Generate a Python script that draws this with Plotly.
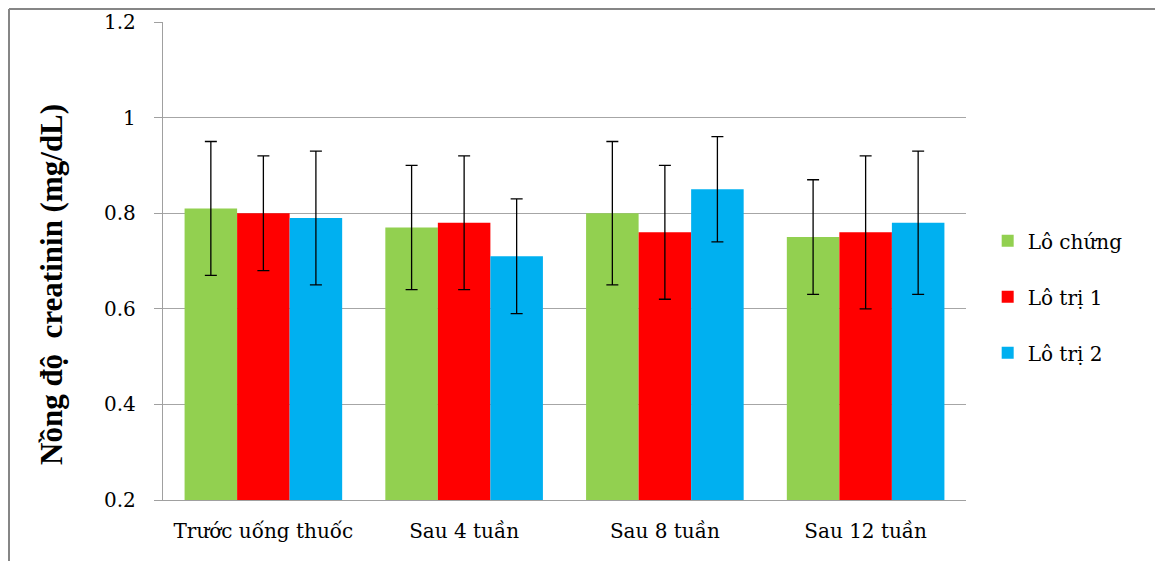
import plotly.graph_objects as go

categories = ["Trước uống thuốc", "Sau 4 tuần", "Sau 8 tuần", "Sau 12 tuần"]
series_names = ["Lô chứng", "Lô trị 1", "Lô trị 2"]
lo_chung = [0.81, 0.77, 0.80, 0.75]
lo_chung_err = [0.14, 0.13, 0.15, 0.12]
lo_tri1 = [0.80, 0.78, 0.76, 0.76]
lo_tri1_err = [0.12, 0.14, 0.14, 0.16]
lo_tri2 = [0.79, 0.71, 0.85, 0.78]
lo_tri2_err = [0.14, 0.12, 0.11, 0.15]
colors = ["#92D050", "#FF0000", "#00B0F0"]
y_ticks = [0.2, 0.4, 0.6, 0.8, 1.0, 1.2]
y_tick_text = ["0.2", "0.4", "0.6", "0.8", "1", "1.2"]
y_title = "Nồng độ  creatinin (mg/dL)"

# page body has an 8px margin, so the figure is offset by 8px
W, H = 1147, 553
L, R, T, B = 155, 189, 14, 61
pw = W - L - R
ph = H - T - B

TXT = "DejaVu Serif"
TITLE_FAM = "Liberation Serif"

fig = go.Figure()
for i, (name, vals, errs) in enumerate(zip(series_names, [lo_chung, lo_tri1, lo_tri2],
                                           [lo_chung_err, lo_tri1_err, lo_tri2_err])):
    fig.add_trace(go.Bar(
        x=categories, y=vals, name=name,
        marker=dict(color=colors[i], line=dict(width=0)),
        error_y=dict(type="data", array=errs, visible=True, color="#000000",
                     thickness=1.3, width=6),
        legendgroup=name,
    ))

fig.update_layout(
    template=None,
    width=W, height=H,
    margin=dict(l=L, r=R, t=T, b=B, autoexpand=False),
    paper_bgcolor="white", plot_bgcolor="white",
    barmode="group", bargap=0.215, bargroupgap=0,
    font=dict(family=TXT, color="#000000", size=21),
    showlegend=True,
    legend=dict(x=1.027, xanchor="left", y=0.425, yanchor="middle",
                font=dict(family=TXT, size=20, color="#000000"),
                traceorder="grouped", tracegroupgap=27,
                itemwidth=30, bgcolor="rgba(0,0,0,0)"),
    xaxis=dict(showgrid=False, showline=True, linecolor="#A0A0A0", linewidth=1.3,
               ticks="", tickfont=dict(family=TXT, size=20, color="#000000"),
               ticklabelstandoff=13),
    yaxis=dict(range=[0.2, 1.2], tickvals=y_ticks, ticktext=y_tick_text,
               showgrid=True, gridcolor="#A6A6A6", gridwidth=1.3,
               showline=True, linecolor="#A0A0A0", linewidth=1.3,
               ticks="outside", ticklen=8, tickcolor="#A0A0A0", tickwidth=1.3,
               tickfont=dict(family=TXT, size=20, color="#000000"),
               ticklabelstandoff=14, zeroline=False),
)

fig.add_annotation(text="<b>" + y_title + "</b>", xref="paper", yref="paper",
                   x=(51 - 163) / pw, y=(500 - 285) / ph, textangle=-90,
                   xanchor="center", yanchor="middle", showarrow=False,
                   font=dict(family=TITLE_FAM, size=31, color="#000000"))

# outer chart frame (top and left edges visible)
top_y = (ph + T - 1) / ph
fig.add_shape(type="line", xref="paper", yref="paper",
              x0=(1 - L) / pw, x1=(W + 20 - L) / pw,
              y0=top_y, y1=top_y,
              line=dict(color="#868686", width=2))
fig.add_shape(type="line", xref="paper", yref="paper",
              x0=(1 - L) / pw, x1=(1 - L) / pw,
              y0=top_y, y1=-(B + 20) / ph,
              line=dict(color="#868686", width=2))

fig.write_html("out.html")
